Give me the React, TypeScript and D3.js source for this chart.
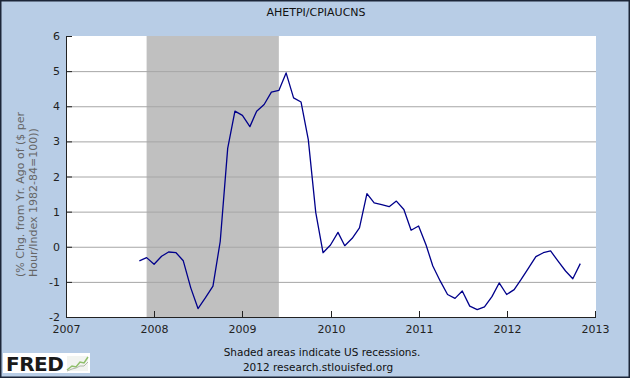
import React from "react";
import * as d3 from "d3";

const TITLE = "AHETPI/CPIAUCNS";
const Y_LABEL_1 = "(% Chg. from Yr. Ago of ($ per";
const Y_LABEL_2 = "Hour/Index 1982-84=100))";
const NOTE_1 = "Shaded areas indicate US recessions.";
const NOTE_2 = "2012 research.stlouisfed.org";

const seriesStart = new Date(2007, 10, 1); // Nov 2007
const seriesValues = [
  -0.40, -0.31, -0.50, -0.27, -0.15, -0.17, -0.40, -1.17, -1.76, -1.45, -1.12, 0.15,
  2.80, 3.86, 3.74, 3.42, 3.86, 4.05, 4.40, 4.45, 4.95, 4.24, 4.12, 3.05,
  0.97, -0.17, 0.05, 0.41, 0.03, 0.24, 0.54, 1.51, 1.25, 1.20, 1.14, 1.30,
  1.06, 0.47, 0.59, 0.05, -0.55, -0.98, -1.36, -1.47, -1.26, -1.69, -1.79, -1.71,
  -1.42, -1.03, -1.36, -1.22, -0.93, -0.60, -0.28, -0.17, -0.12, -0.41, -0.69, -0.91,
  -0.48,
];
const recessionStart = new Date(2007, 11, 1);
const recessionEnd = new Date(2009, 5, 1);
const yTicks = [-2, -1, 0, 1, 2, 3, 4, 5, 6];
const xTickYears = [2007, 2008, 2009, 2010, 2011, 2012, 2013];

const W = 630;
const H = 378;
const L = 66, R = 595, T = 36, B = 317;
const FONT = "'DejaVu Sans', Verdana, sans-serif";

export default function App() {
  const x = d3.scaleTime().domain([new Date(2007, 0, 1), new Date(2013, 0, 1)]).range([L, R]);
  const y = d3.scaleLinear().domain([-2, 6]).range([B, T]);
  const data = seriesValues.map((v, i) => ({ date: d3.timeMonth.offset(seriesStart, i), v }));
  const line = d3.line<{ date: Date; v: number }>().x((d) => x(d.date)).y((d) => y(d.v));

  return (
    <svg width={W} height={H} style={{ position: "absolute", left: 0, top: 0, display: "block" }}>
      <rect x={0} y={0} width={W} height={H} fill="#b8cde6" />
      <rect x={0.75} y={0.75} width={W - 1.5} height={H - 1.5} fill="none" stroke="#1c2638" strokeWidth={1.5} />
      <text x={316} y={16} textAnchor="middle" fontFamily={FONT} fontSize={11} fill="#111">{TITLE}</text>

      <rect x={L} y={T} width={R - L + 1} height={B - T} fill="#ffffff" />
      <rect x={x(recessionStart)} y={T} width={x(recessionEnd) - x(recessionStart)} height={B - T} fill="#c0c0c0" />

      {yTicks.filter((t) => t > -2 && t < 6).map((t) => (
        <line key={"g" + t} x1={L} x2={R + 1} y1={y(t) + 0.5} y2={y(t) + 0.5} stroke="#a6a6a6" strokeWidth={1} />
      ))}

      <path d={line(data) || ""} fill="none" stroke="#00008b" strokeWidth={1.3} strokeLinejoin="round" />

      <line x1={L + 0.5} x2={L + 0.5} y1={T} y2={B + 1} stroke="#222" strokeWidth={1} />
      <line x1={L} x2={R + 1} y1={B + 0.5} y2={B + 0.5} stroke="#222" strokeWidth={1} />
      {yTicks.map((t) => (
        <g key={"y" + t}>
          <line x1={L} x2={L + 6} y1={y(t) + 0.5} y2={y(t) + 0.5} stroke="#222" strokeWidth={1} />
          <text x={60} y={y(t) + 4} textAnchor="end" fontFamily={FONT} fontSize={11} fill="#222">{t}</text>
        </g>
      ))}
      {xTickYears.map((yr) => {
        const px = Math.round(x(new Date(yr, 0, 1))) + 0.5;
        return (
          <g key={"x" + yr}>
            <line x1={px} x2={px} y1={B - 6} y2={B} stroke="#222" strokeWidth={1} />
            <text x={px} y={333} textAnchor="middle" fontFamily={FONT} fontSize={11} fill="#222">{yr}</text>
          </g>
        );
      })}

      <text transform="translate(24,277) rotate(-90)" textAnchor="start" fontFamily={FONT} fontSize={11} fill="#666">{Y_LABEL_1}</text>
      <text transform="translate(37,277) rotate(-90)" textAnchor="start" fontFamily={FONT} fontSize={11} fill="#666">{Y_LABEL_2}</text>

      <text x={322} y={356} textAnchor="middle" fontFamily={FONT} fontSize={10.5} fill="#111">{NOTE_1}</text>
      <text x={318} y={371} textAnchor="middle" fontFamily={FONT} fontSize={10.5} fill="#111">{NOTE_2}</text>

      <g>
        <rect x={3} y={353} width={87} height={20} fill="#ffffff" />
        <text x={6} y={371} fontFamily="'DejaVu Sans', sans-serif" fontWeight="bold" fontSize={20} fill="#1a1a1a" letterSpacing={-0.5}>FRED</text>
        <rect x={67} y={356} width={21} height={15} fill="#f2f4f0" />
        <polyline points="67,370 72,366 76,367 80,362 84,363 88,357" fill="none" stroke="#8fbf6a" strokeWidth={1.5} />
        <polyline points="67,371 72,369 76,368 80,366 84,366 88,362" fill="none" stroke="#b0b8a8" strokeWidth={1} />
      </g>
    </svg>
  );
}
